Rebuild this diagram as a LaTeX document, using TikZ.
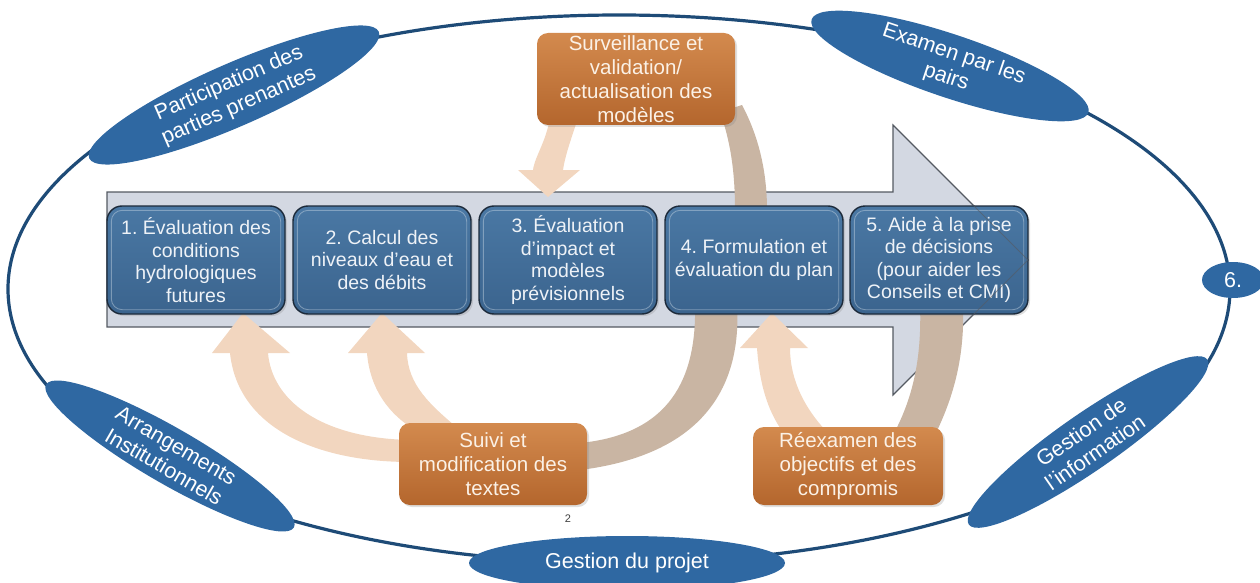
\documentclass[tikz,border=0pt]{standalone}
\usepackage{fontspec}
\setmainfont{Liberation Sans}
\usetikzlibrary{shapes.geometric,shadows}
\frenchspacing

\definecolor{ringblue}{HTML}{1E4B77}
\definecolor{tagblue}{HTML}{2F68A2}
\definecolor{steptop}{HTML}{4A78A4}
\definecolor{stepbot}{HTML}{3B648E}
\definecolor{stepline}{HTML}{1C2A3A}
\definecolor{steptext}{HTML}{EEF2F7}
\definecolor{rusttop}{HTML}{D38A4E}
\definecolor{rustbot}{HTML}{B4662D}
\definecolor{rusttext}{HTML}{FBF1E6}
\definecolor{peach}{HTML}{F2D6BF}
\definecolor{taupe}{HTML}{C9B5A3}
\definecolor{bandgray}{HTML}{D3D8E2}
\definecolor{bandline}{HTML}{555A62}

\begin{document}
\begin{tikzpicture}[x=1pt,y=-1pt,
  tag/.style={ellipse, fill=tagblue, inner sep=0pt, text=white, align=center,
    font=\fontsize{21.5}{24.5}\selectfont},
  stepbox/.style={rounded corners=15pt, minimum width=178pt, minimum height=108pt,
    top color=steptop, bottom color=stepbot, draw=stepline, line width=1.4pt,
    text=steptext, align=center, inner sep=0pt,
    font=\fontsize{19.5}{22.5}\selectfont,
    drop shadow={opacity=0.25, shadow xshift=2pt, shadow yshift=-2pt}},
  rim/.style={rounded corners=11pt, draw=white!70!steptop, line width=0.9pt, opacity=0.45},
  taskbox/.style={rounded corners=11pt, top color=rusttop, bottom color=rustbot,
    text=rusttext, align=center, inner sep=0pt,
    font=\fontsize{20.5}{24}\selectfont,
    drop shadow={opacity=0.25, shadow xshift=2pt, shadow yshift=-2pt}},
  ribbonlight/.style={fill=peach},
  ribbondark/.style={fill=taupe},
  bandarrow/.style={fill=bandgray, draw=bandline, line width=1.1pt, line join=miter}
]
\useasboundingbox (0,0) rectangle (1260,583);
\clip (0,0) rectangle (1260,583);

% outer ring of cross-cutting activities
\node[ellipse, draw=ringblue, line width=3.2pt, minimum width=1222pt,
      minimum height=548pt, inner sep=0pt] (ring) at (619,289) {};

\node[tag, minimum width=316pt, minimum height=46pt, rotate=23.6] (stake) at (234,95)
  {Participation des\\parties prenantes};
\node[tag, minimum width=292pt, minimum height=46pt, rotate=-18.6] (peer) at (950,66)
  {Examen par les\\pairs};
\node[tag, minimum width=62pt, minimum height=36pt] (six) at (1233,280) {6.};
\node[tag, minimum width=290pt, minimum height=46pt, rotate=34.7] (info) at (1088,442)
  {Gestion de\\l'information};
\node[tag, minimum width=316pt, minimum height=54pt] (proj) at (627,563)
  {Gestion du projet};
\node[tag, minimum width=286pt, minimum height=46pt, rotate=-30] (inst) at (170,456)
  {Arrangements\\Institutionnels};

% broad process arrow
\path[bandarrow] (107,192) -- (893,192) -- (893,125) -- (1028,260) -- (893,395)
  -- (893,327) -- (107,327) -- cycle;

% feedback ribbons
\fill[ribbonlight] (551,110) .. controls (548,140) and (535,155) .. (533,170)
  -- (518,170) -- (548,197) -- (580,170) -- (563,170)
  .. controls (566,150) and (575,130) .. (580,110) -- cycle;
\fill[ribbondark] (735,210) .. controls (735,170) and (730,140) .. (720,112)
  -- (742,105) .. controls (758,135) and (767,170) .. (767,210) -- cycle;
\fill[ribbonlight] (410,462) .. controls (320,462) and (238,430) .. (230,353)
  -- (212,353) -- (243,313) -- (290,353) -- (268,353)
  .. controls (272,400) and (320,438) .. (410,440) -- cycle;
\fill[ribbonlight] (367,353) .. controls (370,390) and (390,415) .. (415,430)
  -- (460,430) .. controls (430,405) and (408,385) .. (407,353)
  -- (425,353) -- (382,313) -- (348,353) -- cycle;
\fill[ribbondark] (737,305) .. controls (742,390) and (700,455) .. (580,470)
  -- (580,443) .. controls (660,435) and (697,390) .. (695,305) -- cycle;
\fill[ribbonlight] (757,348) .. controls (760,390) and (770,415) .. (785,435)
  -- (830,435) .. controls (805,410) and (790,380) .. (790,348)
  -- (808,348) -- (772,313) -- (740,348) -- cycle;
\fill[ribbondark] (920,305) .. controls (922,360) and (912,400) .. (893,435)
  -- (935,435) .. controls (952,400) and (965,360) .. (963,305) -- cycle;

% planning steps
\node[stepbox] (s1) at (196,260) {1. Évaluation des\\conditions\\hydrologiques\\futures};
\node[stepbox] (s2) at (382,260) {2. Calcul des\\niveaux d’eau et\\des débits};
\node[stepbox] (s3) at (568,260) {3. Évaluation\\d’impact et\\modèles\\prévisionnels};
\node[stepbox] (s4) at (754,260) {4. Formulation et\\évaluation du plan};
\node[stepbox] (s5) at (939,260) {5. Aide à la prise\\de décisions\\(pour aider les\\Conseils et CMI)};
\foreach \n in {s1,s2,s3,s4,s5}
  \draw[rim] ([xshift=5pt,yshift=-5pt]\n.north west) rectangle ([xshift=-5pt,yshift=5pt]\n.south east);

% arrow head outline seen through the last step
\begin{scope}
  \clip (s5.north west) rectangle (s5.south east);
  \draw[bandline, line width=1pt, opacity=0.6] (893,125) -- (1028,260) -- (893,395);
\end{scope}

% review tasks
\node[taskbox, minimum width=198pt, minimum height=92pt] (surv) at (636,79)
  {Surveillance et\\validation/\\actualisation des\\modèles};
\node[taskbox, minimum width=188pt, minimum height=82pt] (suivi) at (493,464)
  {Suivi et\\modification des\\textes};
\node[taskbox, minimum width=190pt, minimum height=78pt] (reex) at (848,466)
  {Réexamen des\\objectifs et des\\compromis};

\node[font=\fontsize{11}{13}\selectfont, text=black!75] (page) at (568,519) {2};
\end{tikzpicture}
\end{document}
